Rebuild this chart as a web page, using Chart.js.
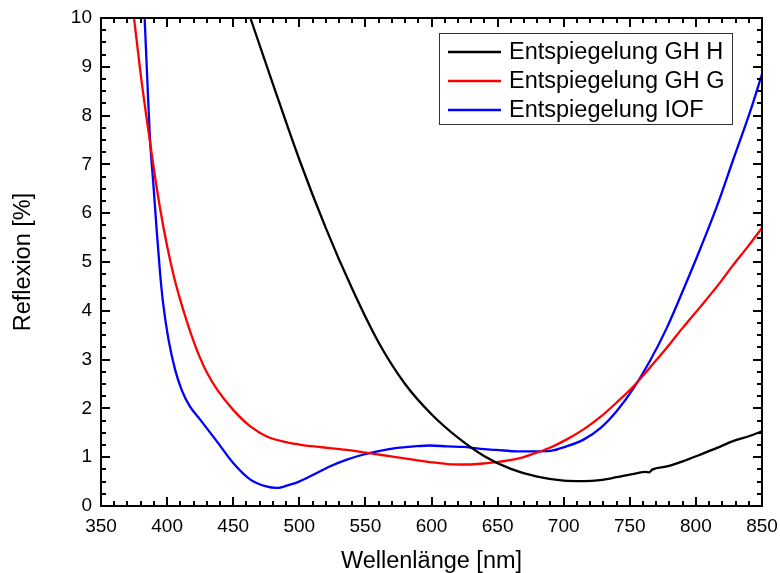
<!DOCTYPE html>
<html><head><meta charset="utf-8">
<script src="https://cdn.jsdelivr.net/npm/chart.js@4/dist/chart.umd.min.js"></script>
<style>html,body{margin:0;padding:0;background:#fff}#wrap{width:780px;height:573px}</style>
</head><body><div id="wrap"><canvas id="c" width="780" height="573"></canvas></div>
<script>
// ---- data ----
const seriesLabels = ['Entspiegelung GH H', 'Entspiegelung GH G', 'Entspiegelung IOF'];
const seriesColors = ['#000000', '#ff0000', '#0000ff'];

const xTickValues = [350, 400, 450, 500, 550, 600, 650, 700, 750, 800, 850];
const yTickValues = [0, 1, 2, 3, 4, 5, 6, 7, 8, 9, 10];

const ghHWavelength = [458, 463, 480, 500, 520, 540, 560, 580, 600, 620, 640, 660, 680, 700, 715, 727.5, 740, 753, 762, 764.5, 767, 778, 790.5, 803, 816, 828, 840, 850];
const ghHValues     = [10.4, 10.0, 8.65, 7.10, 5.70, 4.45, 3.35, 2.50, 1.88, 1.40, 1.02, 0.76, 0.60, 0.52, 0.51, 0.53, 0.59, 0.66, 0.70, 0.69, 0.745, 0.81, 0.92, 1.05, 1.19, 1.33, 1.43, 1.53];

const ghGWavelength = [372, 375, 380, 385, 390, 395, 400, 405, 410, 415, 420, 425, 430, 438, 450, 463, 475, 488, 500, 511, 536, 561, 586, 599, 612, 627, 642, 652, 667, 677, 690, 702, 715, 728, 740, 753, 765, 777, 790, 803, 816, 828, 840, 850];
const ghGValues     = [10.7, 10.0, 8.85, 7.85, 6.90, 6.05, 5.33, 4.72, 4.22, 3.78, 3.38, 3.03, 2.74, 2.38, 1.97, 1.63, 1.43, 1.32, 1.26, 1.22, 1.15, 1.05, 0.95, 0.90, 0.86, 0.85, 0.88, 0.91, 0.98, 1.07, 1.20, 1.36, 1.57, 1.83, 2.12, 2.46, 2.83, 3.21, 3.65, 4.07, 4.50, 4.93, 5.34, 5.70];

const iofWavelength = [381, 383, 385, 387, 389.6, 392, 394.6, 397, 401, 406, 411, 417, 425, 437.5, 450, 463, 475, 483, 493, 498, 510.6, 523, 536, 548, 561, 574, 586, 599, 612, 624, 637, 649, 665, 677, 690, 702, 715, 728, 740, 753, 765, 778, 790, 803, 816, 828, 841, 850];
const iofValues     = [11.2, 10.0, 8.75, 7.55, 6.60, 5.70, 4.80, 4.15, 3.42, 2.80, 2.38, 2.05, 1.77, 1.33, 0.88, 0.54, 0.40, 0.37, 0.44, 0.48, 0.64, 0.81, 0.95, 1.05, 1.13, 1.19, 1.22, 1.24, 1.22, 1.21, 1.17, 1.15, 1.12, 1.12, 1.13, 1.22, 1.36, 1.60, 1.94, 2.42, 2.96, 3.65, 4.40, 5.25, 6.15, 7.08, 8.08, 8.85];

const xMinorStep = 10;
const yMinorStep = 0.25;

// ---- chart ----
const FONT = "'Liberation Sans', Arial, sans-serif";
const toPts = (xs, ys) => xs.map((x, i) => ({x: x, y: ys[i]}));

const framePlugin = {
  id: 'frame',
  afterDatasetsDraw(chart) {
    const {ctx, chartArea: a, scales: {x, y}} = chart;
    ctx.save();
    ctx.strokeStyle = '#000';
    ctx.lineWidth = 2;
    ctx.lineCap = 'butt';
    const majL = 9, minL = 5;
    ctx.beginPath();
    for (let v = x.min; v <= x.max + 1e-9; v += xMinorStep) {
      const px = Math.round(x.getPixelForValue(v));
      const isMaj = xTickValues.some(t => Math.abs(t - v) < 1e-6);
      const L = isMaj ? majL : minL;
      ctx.moveTo(px, a.bottom); ctx.lineTo(px, a.bottom - L);
      ctx.moveTo(px, a.top); ctx.lineTo(px, a.top + L);
    }
    for (let v = y.min; v <= y.max + 1e-9; v += yMinorStep) {
      const py = Math.round(y.getPixelForValue(v));
      const isMaj = yTickValues.some(t => Math.abs(t - v) < 1e-6);
      const L = isMaj ? majL : minL;
      ctx.moveTo(a.left, py); ctx.lineTo(a.left + L, py);
      ctx.moveTo(a.right, py); ctx.lineTo(a.right - L, py);
    }
    ctx.stroke();
    ctx.strokeRect(a.left, a.top, a.right - a.left, a.bottom - a.top);
    ctx.restore();
  }
};

const legendPlugin = {
  id: 'boxLegend',
  afterDraw(chart) {
    const {ctx, chartArea: a} = chart;
    const right = a.right - 30, top = a.top + 15, w = 293, h = 91;
    const left = right - w;
    ctx.save();
    ctx.fillStyle = '#fff';
    ctx.fillRect(left, top, w, h);
    ctx.strokeStyle = '#333';
    ctx.lineWidth = 1;
    ctx.strokeRect(left + 0.5, top + 0.5, w, h);
    ctx.font = '23.5px ' + FONT;
    ctx.textBaseline = 'middle';
    ctx.textAlign = 'left';
    chart.data.datasets.forEach((ds, i) => {
      const cy = top + 19 + i * 29;
      ctx.strokeStyle = ds.borderColor;
      ctx.lineWidth = 2.5;
      ctx.beginPath();
      ctx.moveTo(left + 9, cy); ctx.lineTo(left + 62, cy);
      ctx.stroke();
      ctx.fillStyle = '#000';
      ctx.fillText(ds.label, left + 70, cy + 1);
    });
    ctx.restore();
  }
};

new Chart(document.getElementById('c').getContext('2d'), {
  type: 'line',
  data: {
    datasets: [
      {label: seriesLabels[0], data: toPts(ghHWavelength, ghHValues), borderColor: seriesColors[0]},
      {label: seriesLabels[1], data: toPts(ghGWavelength, ghGValues), borderColor: seriesColors[1]},
      {label: seriesLabels[2], data: toPts(iofWavelength, iofValues), borderColor: seriesColors[2]}
    ]
  },
  options: {
    responsive: false,
    animation: false,
    devicePixelRatio: 1,
    layout: {padding: {left: 0, right: 18, top: 18, bottom: 0}},
    elements: {
      point: {radius: 0},
      line: {borderWidth: 2.3, cubicInterpolationMode: 'monotone', fill: false}
    },
    datasets: {line: {clip: 0}},
    plugins: {legend: {display: false}, tooltip: {enabled: false}},
    scales: {
      x: {
        type: 'linear', min: 350, max: 850,
        afterFit: s => { s.height = 67; s.paddingLeft = 0; s.paddingRight = 0; },
        afterBuildTicks: s => { s.ticks = xTickValues.map(v => ({value: v})); },
        grid: {display: false, drawTicks: false},
        border: {display: false},
        ticks: {font: {family: FONT, size: 19}, color: '#000', padding: 9, maxRotation: 0, autoSkip: false},
        title: {display: true, text: 'Wellenlänge [nm]', color: '#000', font: {family: FONT, size: 23.5, lineHeight: 1}, padding: {top: 0, bottom: 0}}
      },
      y: {
        type: 'linear', min: 0, max: 10,
        afterFit: s => { s.width = 101; s.paddingTop = 0; s.paddingBottom = 0; },
        afterBuildTicks: s => { s.ticks = yTickValues.map(v => ({value: v})); },
        grid: {display: false, drawTicks: false},
        border: {display: false},
        ticks: {font: {family: FONT, size: 19}, color: '#000', padding: 9, autoSkip: false},
        title: {display: true, text: 'Reflexion [%]', color: '#000', font: {family: FONT, size: 23.5, lineHeight: 1}, padding: {top: 12, bottom: 0}}
      }
    }
  },
  plugins: [framePlugin, legendPlugin]
});
</script>
</body></html>
